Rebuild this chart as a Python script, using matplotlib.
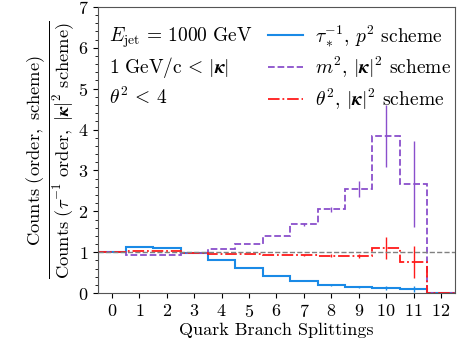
import numpy as np
import matplotlib.pyplot as plt
from matplotlib.ticker import MultipleLocator

plt.rcParams['font.family'] = 'serif'
plt.rcParams['font.serif'] = ['cmr10', 'DejaVu Serif']
plt.rcParams['mathtext.fontset'] = 'cm'
plt.rcParams['axes.formatter.use_mathtext'] = True

bins = np.arange(0, 13)
edges = np.arange(-0.5, 13.0, 1.0)

tau_vals = [1.0, 1.13, 1.11, 0.98, 0.80, 0.62, 0.43, 0.30, 0.19, 0.16, 0.12, 0.10, 0.0]
tau_err = [0, 0, 0, 0, 0, 0, 0, 0, 0.01, 0.02, 0.05, 0.08, 0]

m2_vals = [1.0, 0.93, 0.93, 0.99, 1.07, 1.20, 1.40, 1.68, 2.05, 2.54, 3.85, 2.67, 0.0]
m2_err = [0, 0, 0, 0, 0, 0, 0.01, 0.03, 0.06, 0.2, 0.76, 1.05, 0]

th_vals = [1.0, 1.02, 1.02, 0.98, 0.97, 0.96, 0.94, 0.93, 0.92, 0.90, 1.10, 0.77, 0.0]
th_err = [0, 0, 0, 0, 0, 0, 0, 0.01, 0.03, 0.05, 0.27, 0.39, 0]

c_tau = '#1a8ae6'
c_m2 = '#8a4fcc'
c_th = '#ff1a1a'

fig, ax = plt.subplots(figsize=(4.57, 3.39), dpi=100)

ax.stairs(tau_vals, edges, color=c_tau, lw=1.5, label=r'$\tau_*^{-1}$, $p^2$ scheme')
ax.stairs(m2_vals, edges, color=c_m2, lw=1.3, ls='--', label=r'$m^2$, $|\boldsymbol{\kappa}|^2$ scheme')
ax.stairs(th_vals, edges, color=c_th, lw=1.3, ls='-.', label=r'$\theta^2$, $|\boldsymbol{\kappa}|^2$ scheme')

ax.errorbar(bins[:-1], tau_vals[:-1], yerr=tau_err[:-1], fmt='none', ecolor=c_tau, elinewidth=1)
ax.errorbar(bins[:-1], m2_vals[:-1], yerr=m2_err[:-1], fmt='none', ecolor=c_m2, elinewidth=1)
ax.errorbar(bins[:-1], th_vals[:-1], yerr=th_err[:-1], fmt='none', ecolor=c_th, elinewidth=1)

ax.axhline(1, color='grey', ls='--', lw=1)

ax.set_xlim(-0.5, 12.5)
ax.set_ylim(0, 7)
ax.set_xticks(bins)
ax.yaxis.set_minor_locator(MultipleLocator(0.2))
ax.tick_params(labelsize=13)
for s in ax.spines.values():
    s.set_color('#555555')

ax.set_xlabel('Quark Branch Splittings', fontsize=13, labelpad=2)
ax.set_ylabel(r'$\frac{\mathrm{Counts\ (order,\ scheme)}}{\mathrm{Counts\ (\tau^{-1}\ order,\ |\boldsymbol{\kappa}|^2\ scheme)}}$',
              fontsize=19, labelpad=1)

ax.text(0.03, 0.892, r'$E_{\rm jet}\, =\, 1000\ \mathrm{GeV}$', transform=ax.transAxes, fontsize=14, va='center')
ax.text(0.03, 0.787, r'$1\ \mathrm{GeV/c}\, <\, |\boldsymbol{\kappa}|$', transform=ax.transAxes, fontsize=14, va='center')
ax.text(0.03, 0.685, r'$\theta^2\, <\, 4$', transform=ax.transAxes, fontsize=14, va='center')

ax.legend(loc='upper right', frameon=False, fontsize=14, handlelength=1.8, handletextpad=0.6,
          labelspacing=0.32, borderaxespad=0.0, borderpad=0.2, bbox_to_anchor=(1.0, 0.955))

fig.subplots_adjust(left=0.215, right=0.995, top=0.98, bottom=0.135)
fig.savefig('out.png', dpi=100)
